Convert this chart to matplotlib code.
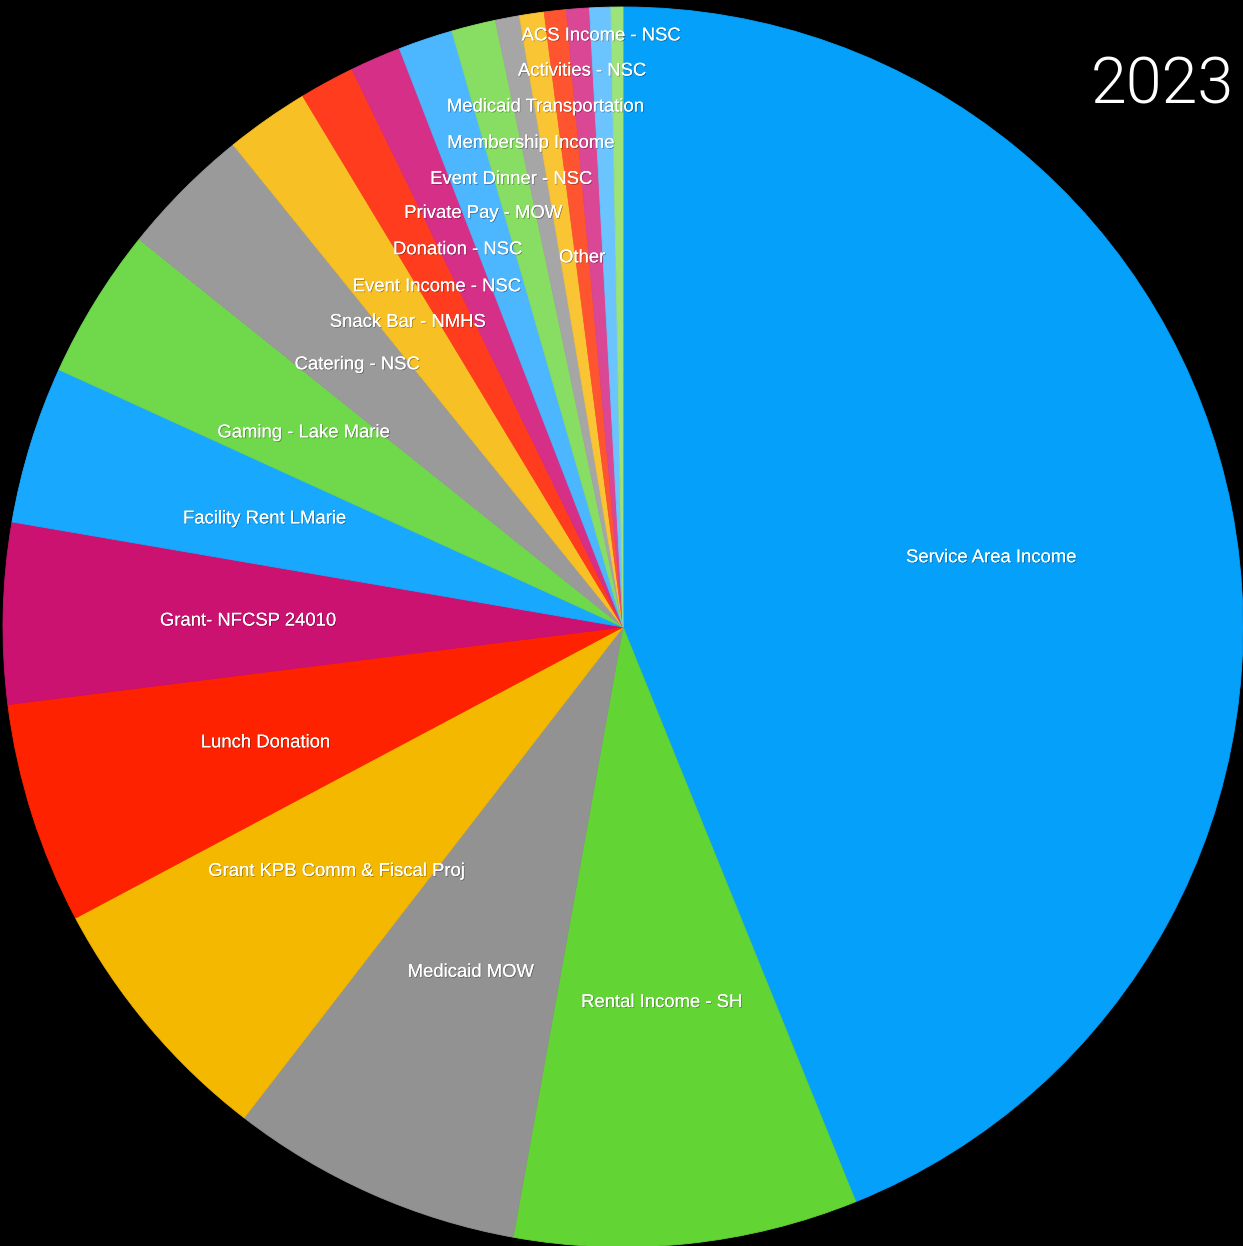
import matplotlib.pyplot as plt
import matplotlib.patheffects as pe
import numpy as np

# share of 2023 income, percent
categories = [
    "Service Area Income",
    "Rental Income - SH",
    "Medicaid MOW",
    "Grant KPB Comm & Fiscal Proj",
    "Lunch Donation",
    "Grant- NFCSP 24010",
    "Facility Rent LMarie",
    "Gaming - Lake Marie",
    "Catering - NSC",
    "Snack Bar - NMHS",
    "Event Income - NSC",
    "Donation - NSC",
    "Private Pay - MOW",
    "Event Dinner - NSC",
    "Membership Income",
    "Medicaid Transportation",
    "Other",
    "Activities - NSC",
    "ACS Income - NSC",
    "",
]
shares = [
    43.88, 8.96, 7.63, 6.76, 5.78, 4.71, 4.10, 3.94, 3.43, 2.18,
    1.44, 1.33, 1.42, 1.15, 0.63, 0.64, 0.57, 0.60, 0.55, 0.31,
]
year = "2023"

colors = [
    "#05a0fa", "#62d434", "#929292", "#f5b800", "#ff2200", "#cc1270",
    "#18a9ff", "#6fd84b", "#9a9a9a", "#f7c024", "#ff3c1e", "#d62f88",
    "#4cb6ff", "#88de63", "#a6a6a6", "#f9c535", "#ff5430", "#da4794",
    "#6cc4ff", "#9be37a",
]
# radial position of each label, as a fraction of the radius
label_radius = [
    0.605, 0.605, 0.605, 0.605, 0.605, 0.605, 0.605, 0.605, 0.605, 0.605,
    0.629, 0.668, 0.708, 0.748, 0.798, 0.852, 0.603, 0.903, 0.958, 0.6,
]

fig = plt.figure(figsize=(12.43, 12.46), dpi=100, facecolor="black")
ax = fig.add_axes([0, 0, 1, 1])
ax.set_facecolor("black")

wedges, _ = ax.pie(
    shares,
    colors=colors,
    startangle=90,
    counterclock=False,
    radius=1.0,
)
for w, c in zip(wedges, colors):
    w.set_edgecolor(c)
    w.set_linewidth(0.6)

shadow = [pe.withSimplePatchShadow(offset=(0.6, -0.6), shadow_rgbFace="black", alpha=0.35), pe.Normal()]
for w, name, r in zip(wedges, categories, label_radius):
    if not name:
        continue
    mid = np.deg2rad((w.theta1 + w.theta2) / 2)
    ax.text(
        r * np.cos(mid),
        r * np.sin(mid) - 0.004,
        name,
        ha="center",
        va="center",
        color="white",
        fontsize=13.3,
        family="Liberation Sans",
        path_effects=shadow,
    )

ax.text(
    0.993, 0.9173, year, transform=ax.transAxes, ha="right", va="baseline",
    color="white", fontsize=46.5, family="Roboto", fontweight=300,
)

ax.set_xlim(-623 / 620, 620 / 620)
ax.set_ylim(-619 / 620, 627 / 620)
ax.set_aspect("auto")
ax.axis("off")

fig.savefig("out.png", dpi=100, facecolor="black")
